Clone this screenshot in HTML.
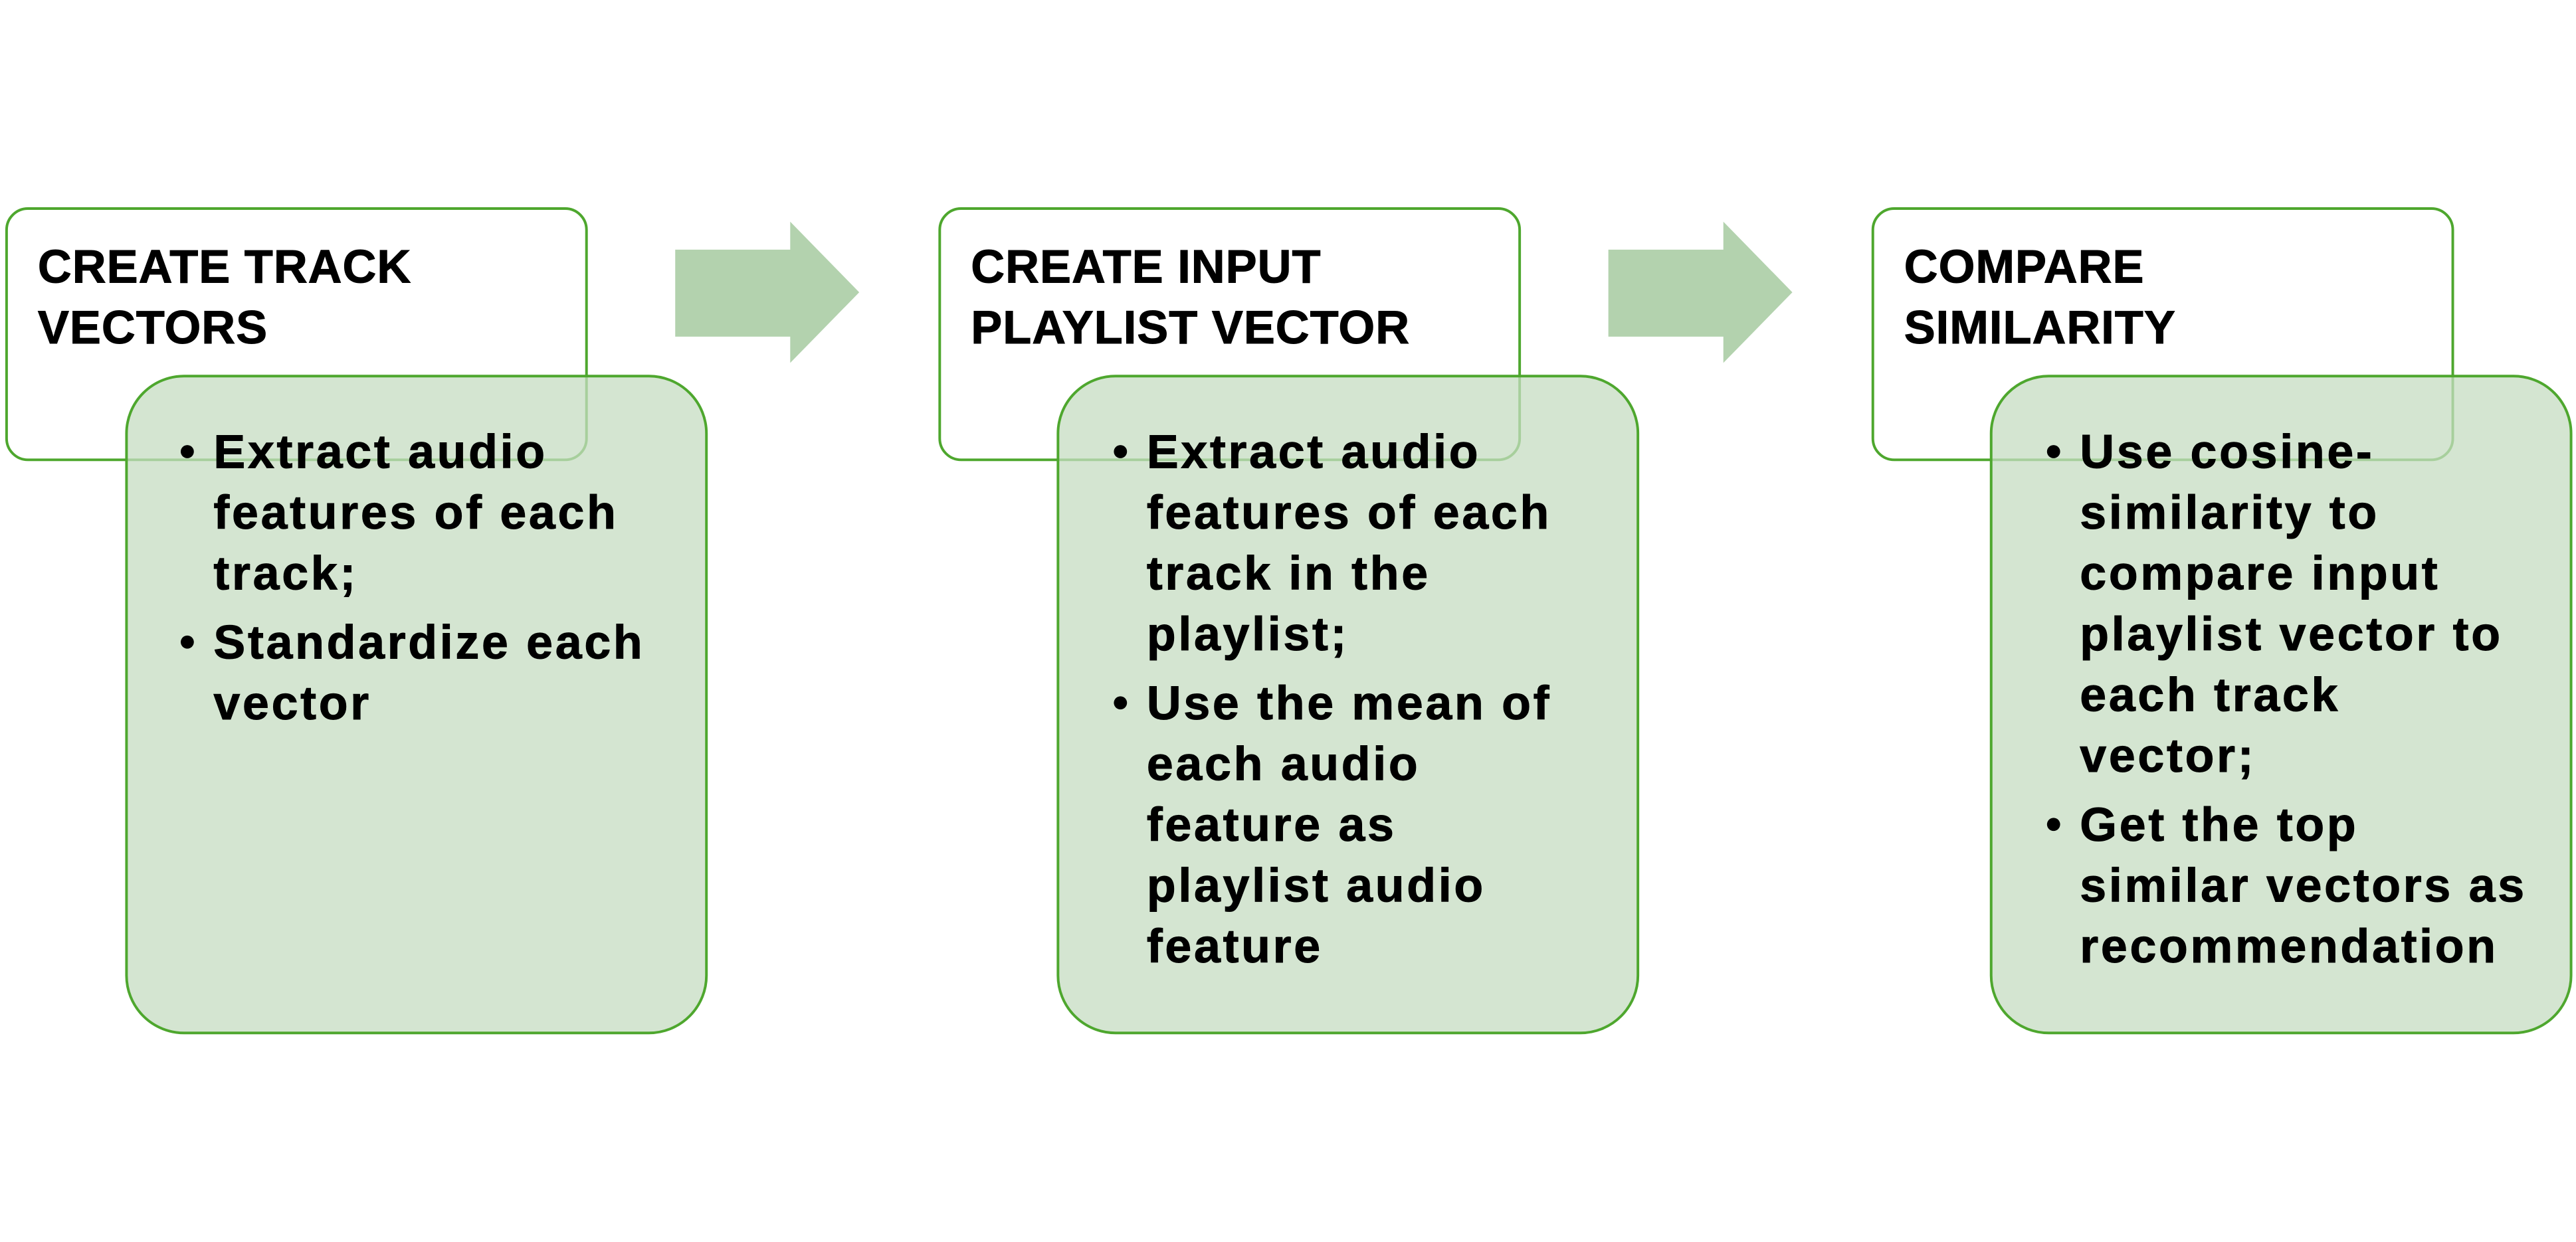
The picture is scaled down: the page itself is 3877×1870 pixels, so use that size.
<!DOCTYPE html>
<html><head><meta charset="utf-8"><style>
html,body{margin:0;padding:0;background:#fff;}
svg{display:block;}
text{font-family:"Liberation Sans",Arial,sans-serif;font-weight:bold;fill:#000;}
</style></head><body>
<svg width="3877" height="1870" viewBox="0 0 1568 756.3" xmlns="http://www.w3.org/2000/svg">
<rect width="1568" height="756.3" fill="#fff"/>
<g fill="#b3d2ae">
<polygon points="411,152 481,152 481,135 523,178 481,221 481,205 411,205"/>
<polygon points="979,152 1049,152 1049,135 1091,178 1049,221 1049,205 979,205"/>
</g>
<g fill="#fff" stroke="#4ea72e" stroke-width="1.6">
<rect x="4" y="127" width="353" height="153" rx="13"/>
<rect x="572" y="127" width="353" height="153" rx="13"/>
<rect x="1140" y="127" width="353" height="153" rx="13"/>
</g>
<g fill="#c6dcc1" fill-opacity="0.75" stroke="#4ea72e" stroke-width="1.6">
<rect x="77" y="229" width="353" height="400" rx="35"/>
<rect x="644" y="229" width="353" height="400" rx="35"/>
<rect x="1212" y="229" width="353" height="400" rx="35"/>
</g>
<g font-size="28.5" letter-spacing="0.4" stroke="#000" stroke-width="0.4">
<text x="23" y="172">CREATE TRACK</text>
<text x="23" y="209">VECTORS</text>
<text x="591" y="172">CREATE INPUT</text>
<text x="591" y="209">PLAYLIST VECTOR</text>
<text x="1159" y="172">COMPARE</text>
<text x="1159" y="209">SIMILARITY</text>
</g>
<g fill="#000">
<circle cx="114" cy="275" r="4"/><circle cx="114" cy="391" r="4"/>
<circle cx="682" cy="275" r="4"/><circle cx="682" cy="428" r="4"/>
<circle cx="1250" cy="275" r="4"/><circle cx="1250" cy="502" r="4"/>
</g>
<g font-size="29" letter-spacing="1.5" stroke="#000" stroke-width="0.4">
<text x="130" y="285">Extract audio</text>
<text x="130" y="322">features of each</text>
<text x="130" y="359">track;</text>
<text x="130" y="401">Standardize each</text>
<text x="130" y="438">vector</text>

<text x="698" y="285">Extract audio</text>
<text x="698" y="322">features of each</text>
<text x="698" y="359">track in the</text>
<text x="698" y="396">playlist;</text>
<text x="698" y="438">Use the mean of</text>
<text x="698" y="475">each audio</text>
<text x="698" y="512">feature as</text>
<text x="698" y="549">playlist audio</text>
<text x="698" y="586">feature</text>

<text x="1266" y="285">Use cosine-</text>
<text x="1266" y="322">similarity to</text>
<text x="1266" y="359">compare input</text>
<text x="1266" y="396">playlist vector to</text>
<text x="1266" y="433">each track</text>
<text x="1266" y="470">vector;</text>
<text x="1266" y="512">Get the top</text>
<text x="1266" y="549">similar vectors as</text>
<text x="1266" y="586">recommendation</text>
</g>
</svg>
</body></html>
